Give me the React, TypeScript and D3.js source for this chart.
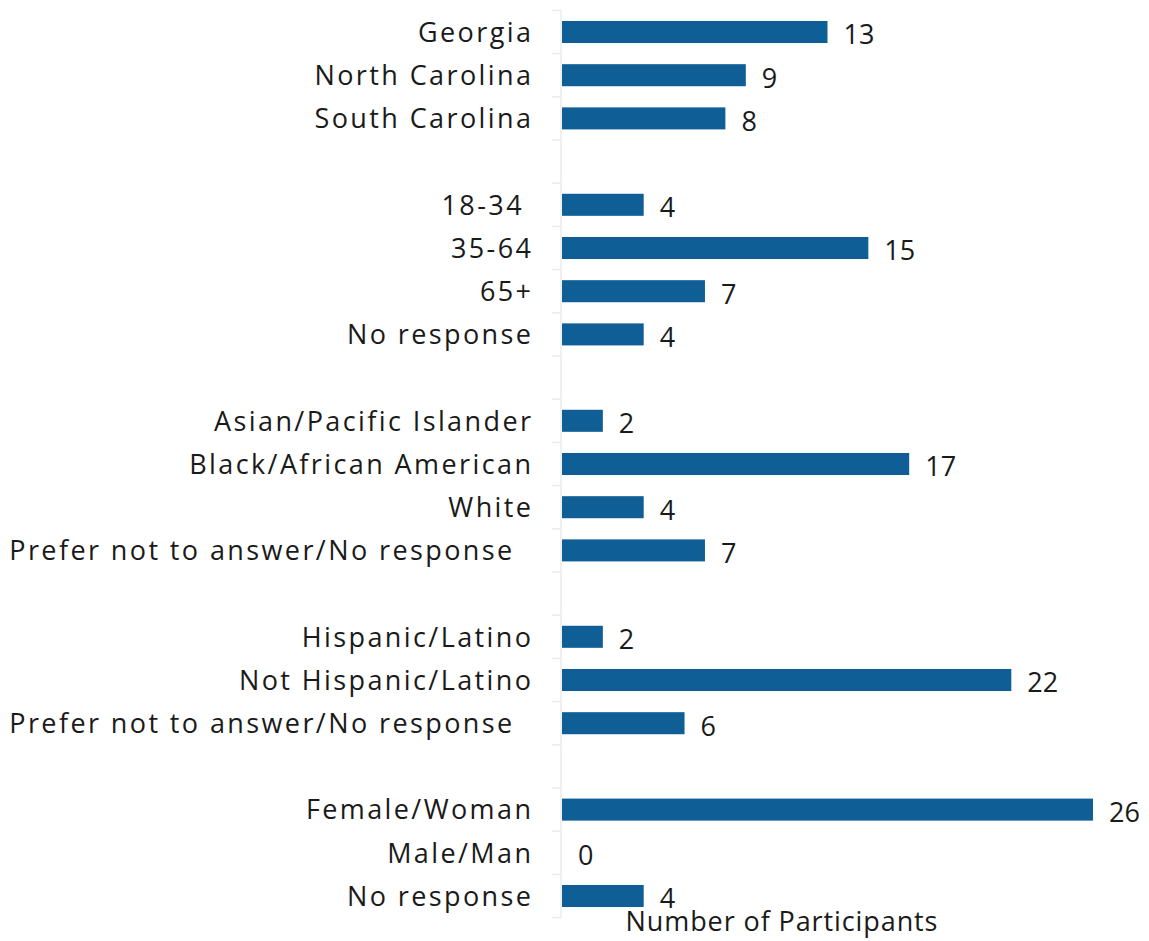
import React from "react";
import * as d3 from "d3";

const categories: string[] = [
  "Georgia", "North Carolina", "South Carolina", "",
  "18-34 ", "35-64", "65+", "No response", "",
  "Asian/Pacific Islander", "Black/African American", "White", "Prefer not to answer/No response  ", "",
  "Hispanic/Latino", "Not Hispanic/Latino", "Prefer not to answer/No response  ", "",
  "Female/Woman", "Male/Man", "No response",
];
const values: (number | null)[] = [
  13, 9, 8, null,
  4, 15, 7, 4, null,
  2, 17, 4, 7, null,
  2, 22, 6, null,
  26, 0, 4,
];
const xTitle = "Number of Participants";

const W = 1149, H = 941;
const FONT = "'Open Sans', sans-serif";

export default function App() {
  const ids = categories.map((_, i) => String(i));
  const y = d3.scaleBand<string>().domain(ids).range([10.4, 917.6]).paddingInner(0.49).paddingOuter(0.245);
  const x = d3.scaleLinear().domain([0, 26]).range([562, 1093]);
  const step = y.step();
  const bw = y.bandwidth();
  const boundaries = ids.map((id) => (y(id) as number) + bw / 2 - step / 2);
  boundaries.push((y(ids[ids.length - 1]) as number) + bw / 2 + step / 2);
  const axisX = 561;
  return (
    <svg width={W} height={H} style={{ position: "absolute", left: 0, top: 0, background: "#fff" }}>
      <line x1={axisX} x2={axisX} y1={boundaries[0]} y2={boundaries[boundaries.length - 1]} stroke="#ebebeb" strokeWidth={1.5} />
      {boundaries.map((b, i) => (
        <line key={"t" + i} x1={552} x2={axisX} y1={b} y2={b} stroke="#ebebeb" strokeWidth={1.5} />
      ))}
      {categories.map((c, i) => {
        const v = values[i];
        const cy = (y(ids[i]) as number) + bw / 2;
        return (
          <g key={i}>
            {c && (
              <text x={533.4} y={cy} dy="0.36em" textAnchor="end" fontFamily={FONT} fontSize={27} letterSpacing={2.4} fill="#1a1a1a" style={{ whiteSpace: "pre" }}>
                {c}
              </text>
            )}
            {v !== null && (
              <>
                {v > 0 && <rect x={x(0)} y={y(ids[i])} width={x(v) - x(0)} height={bw} fill="#0f5e96" />}
                <text x={x(v) + 16} y={cy} dy="0.46em" fontFamily={FONT} fontSize={27} fill="#1a1a1a">
                  {v}
                </text>
              </>
            )}
          </g>
        );
      })}
      <text x={782} y={921} dy="0.36em" textAnchor="middle" fontFamily={FONT} fontSize={27} letterSpacing={0.9} fill="#1a1a1a">
        {xTitle}
      </text>
    </svg>
  );
}
